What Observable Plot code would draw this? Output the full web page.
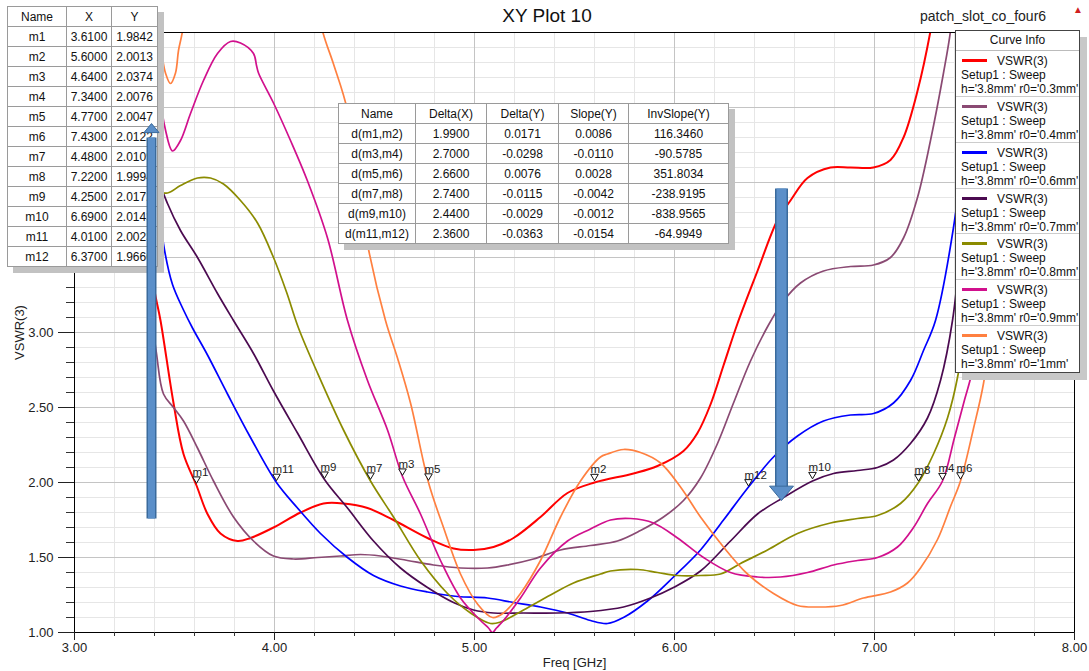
<!DOCTYPE html>
<html><head><meta charset="utf-8">
<script src="https://cdn.jsdelivr.net/npm/d3@7"></script>
<script src="https://cdn.jsdelivr.net/npm/@observablehq/plot@0.6"></script>
<style>
body{margin:0;background:#fff;font-family:Arial,"Liberation Sans",sans-serif;}
#wrap{position:relative;width:1089px;height:671px;overflow:hidden;background:#fff}
#wrap svg{position:absolute;left:0;top:0}
.title{position:absolute;left:0;width:1094px;top:4px;text-align:center;font-size:19px;color:#111;line-height:24px}
.design{position:absolute;left:920px;top:7px;font-size:14px;color:#222;line-height:18px}
.logo{position:absolute;left:1073px;top:4px;font-size:10px;color:#d02020}
table.tbl{position:absolute;border-collapse:collapse;table-layout:fixed;background:#fff;font-size:12px;color:#111;box-shadow:6px 6px 0 #c2c2c2;border:1px solid #333;z-index:3}
.tbl td{border:1px solid #9a9a9a;height:19px;padding:0;text-align:center;line-height:18px;white-space:nowrap;overflow:hidden}
#legend{position:absolute;left:955px;top:30px;width:125px;height:343px;box-sizing:border-box;border:1px solid #444;background:#fff;box-shadow:7px 7px 0 #c8c8c8;font-size:12px;color:#111;z-index:3}
.lgHead{height:20px;line-height:19px;text-align:center;border-bottom:1px solid #bbb;box-sizing:border-box}
.lgItem{position:relative;height:45.86px;box-sizing:border-box;border-bottom:1px solid #ccc}
.lgItem:last-child{border-bottom:none}
.lgLine{position:absolute;left:6px;top:8px;width:25px;height:3px}
.lgT1{position:absolute;left:41px;top:3px;line-height:14px}
.lgT2{position:absolute;left:5px;top:17px;line-height:14px;white-space:nowrap}
.lgT3{position:absolute;left:5px;top:31px;line-height:14px;white-space:nowrap}
</style>
</head>
<body>
<div id="wrap">
  <div id="plotLayer"></div>
  <div class="title">XY Plot 10</div>
  <div class="design">patch_slot_co_four6</div>
  <div class="logo">▲</div>
  <table class="tbl" id="markerTable" style="left:7px;top:6px;width:150px"></table>
  <table class="tbl" id="deltaTable" style="left:338px;top:103px;width:390px"></table>
  <div id="legend"></div>
  <div id="arrowLayer"></div>
</div>
<script>
// ---------- curve data: [Freq GHz, VSWR] ----------
const vswr03 = [[3.37,3.60],[3.40,3.28],[3.43,3.08],[3.495,2.53],[3.545,2.19],[3.61,1.98],[3.665,1.79],[3.73,1.66],[3.815,1.61],[3.88,1.63],[3.995,1.70],[4.13,1.80],[4.245,1.86],[4.345,1.86],[4.465,1.83],[4.595,1.75],[4.765,1.63],[4.895,1.56],[4.995,1.55],[5.095,1.57],[5.195,1.63],[5.33,1.77],[5.465,1.93],[5.60,2.00],[5.795,2.06],[5.915,2.11],[6.045,2.21],[6.115,2.33],[6.18,2.52],[6.245,2.78],[6.315,3.06],[6.415,3.41],[6.515,3.75],[6.58,3.88],[6.665,4.03],[6.78,4.10],[6.88,4.10],[6.995,4.10],[7.08,4.15],[7.145,4.30],[7.215,4.61],[7.28,5.01],[7.32,5.35]];
const vswr04 = [[3.365,3.50],[3.375,3.25],[3.41,2.86],[3.445,2.59],[3.495,2.50],[3.545,2.41],[3.615,2.23],[3.695,2.01],[3.795,1.77],[3.895,1.61],[3.995,1.51],[4.095,1.49],[4.215,1.50],[4.33,1.51],[4.43,1.52],[4.53,1.51],[4.665,1.48],[4.795,1.45],[4.93,1.43],[5.065,1.43],[5.165,1.45],[5.295,1.49],[5.43,1.55],[5.58,1.58],[5.715,1.61],[5.83,1.68],[5.945,1.77],[6.045,1.88],[6.13,2.03],[6.215,2.26],[6.295,2.53],[6.38,2.81],[6.47,3.05],[6.545,3.21],[6.63,3.33],[6.745,3.41],[6.88,3.44],[6.995,3.45],[7.08,3.50],[7.145,3.63],[7.215,3.90],[7.28,4.28],[7.345,4.73],[7.38,5.01],[7.40,5.30]];
const vswr06 = [[3.38,4.35],[3.42,3.86],[3.45,3.55],[3.49,3.32],[3.545,3.15],[3.59,3.03],[3.665,2.85],[3.765,2.59],[3.88,2.30],[4.01,2.00],[4.115,1.83],[4.23,1.66],[4.365,1.50],[4.495,1.38],[4.63,1.31],[4.765,1.27],[4.915,1.24],[5.065,1.23],[5.195,1.20],[5.33,1.17],[5.465,1.13],[5.58,1.08],[5.665,1.06],[5.745,1.10],[5.865,1.21],[5.995,1.37],[6.13,1.55],[6.245,1.75],[6.37,1.97],[6.495,2.17],[6.615,2.31],[6.745,2.41],[6.88,2.45],[6.995,2.46],[7.095,2.53],[7.18,2.68],[7.245,2.88],[7.305,3.08],[7.395,3.70],[7.45,4.30],[7.50,5.00],[7.53,5.40]];
const vswr07 = [[3.39,4.45],[3.415,4.15],[3.43,3.99],[3.465,3.86],[3.53,3.68],[3.615,3.50],[3.715,3.26],[3.795,3.08],[3.895,2.86],[3.995,2.61],[4.115,2.33],[4.25,2.02],[4.365,1.83],[4.495,1.61],[4.63,1.43],[4.765,1.30],[4.895,1.20],[4.995,1.15],[5.095,1.13],[5.245,1.13],[5.415,1.13],[5.58,1.14],[5.745,1.17],[5.88,1.23],[5.995,1.30],[6.13,1.41],[6.28,1.61],[6.415,1.79],[6.545,1.90],[6.69,2.01],[6.795,2.06],[6.915,2.08],[7.015,2.10],[7.095,2.15],[7.18,2.26],[7.265,2.43],[7.33,2.68],[7.39,3.08],[7.44,3.70],[7.50,4.50],[7.55,5.30]];
const vswr08 = [[3.38,4.02],[3.405,3.95],[3.465,3.93],[3.53,3.98],[3.615,4.03],[3.68,4.03],[3.745,3.99],[3.83,3.88],[3.915,3.73],[3.995,3.50],[4.06,3.27],[4.12,3.03],[4.215,2.73],[4.345,2.35],[4.48,2.01],[4.595,1.77],[4.73,1.48],[4.865,1.26],[4.98,1.13],[5.08,1.06],[5.13,1.07],[5.245,1.15],[5.38,1.25],[5.495,1.33],[5.63,1.39],[5.68,1.41],[5.815,1.42],[5.915,1.40],[6.015,1.38],[6.13,1.38],[6.23,1.39],[6.33,1.46],[6.465,1.55],[6.615,1.66],[6.78,1.73],[6.915,1.76],[7.015,1.78],[7.13,1.86],[7.22,2.00],[7.295,2.19],[7.365,2.43],[7.415,2.70],[7.47,3.20],[7.53,4.00],[7.58,4.80],[7.61,5.30]];
const vswr09 = [[3.39,5.60],[3.415,5.01],[3.43,4.57],[3.455,4.35],[3.49,4.21],[3.53,4.28],[3.58,4.46],[3.645,4.68],[3.715,4.86],[3.78,4.94],[3.83,4.93],[3.895,4.86],[3.91,4.78],[3.92,4.73],[3.995,4.53],[4.08,4.28],[4.165,4.01],[4.265,3.63],[4.365,3.08],[4.465,2.68],[4.565,2.35],[4.64,2.04],[4.73,1.79],[4.83,1.48],[4.93,1.23],[5.03,1.08],[5.07,1.03],[5.09,1.00],[5.11,1.03],[5.145,1.08],[5.23,1.23],[5.33,1.43],[5.465,1.61],[5.58,1.69],[5.68,1.75],[5.78,1.76],[5.895,1.73],[6.015,1.63],[6.145,1.50],[6.28,1.40],[6.415,1.37],[6.53,1.37],[6.665,1.40],[6.795,1.45],[6.915,1.48],[7.015,1.50],[7.115,1.57],[7.195,1.70],[7.265,1.86],[7.34,2.01],[7.40,2.30],[7.45,2.55],[7.49,2.75],[7.55,3.30],[7.62,4.20],[7.68,5.00],[7.70,5.30]];
const vswr10 = [[3.39,5.60],[3.42,5.01],[3.44,4.83],[3.455,4.73],[3.48,4.66],[3.505,4.73],[3.52,4.88],[3.54,5.01],[3.60,5.70],[3.90,6.20],[4.15,5.60],[4.24,5.01],[4.295,4.79],[4.365,4.48],[4.465,3.59],[4.555,3.08],[4.615,2.83],[4.68,2.53],[4.77,2.00],[4.845,1.70],[4.93,1.39],[5.015,1.19],[5.09,1.10],[5.145,1.13],[5.23,1.26],[5.33,1.48],[5.43,1.77],[5.53,2.01],[5.63,2.17],[5.665,2.19],[5.745,2.22],[5.83,2.20],[5.93,2.13],[6.03,1.97],[6.13,1.77],[6.245,1.57],[6.365,1.39],[6.495,1.26],[6.615,1.18],[6.715,1.17],[6.83,1.18],[6.945,1.23],[7.08,1.27],[7.165,1.33],[7.23,1.43],[7.315,1.62],[7.38,1.84],[7.43,2.01],[7.495,2.36],[7.545,2.66],[7.60,3.20],[7.68,4.10],[7.75,5.00],[7.78,5.30]];

const curveR0 = ["0.3mm","0.4mm","0.6mm","0.7mm","0.8mm","0.9mm","1mm"];
const curveData = [vswr03, vswr04, vswr06, vswr07, vswr08, vswr09, vswr10];
const curveColors = ["#ff0000","#8a4a73","#0000ff","#4b0a50","#8b8b00","#d1108d","#ff8040"];

// ---------- markers ----------
const markerNames = ["m1","m2","m3","m4","m5","m6","m7","m8","m9","m10","m11","m12"];
const markerX = [3.61,5.60,4.64,7.34,4.77,7.43,4.48,7.22,4.25,6.69,4.01,6.37];
const markerY = [1.9842,2.0013,2.0374,2.0076,2.0047,2.0122,2.0109,1.9994,2.0172,2.0143,2.0023,1.9660];

// ---------- delta table ----------
const deltaHead = ["Name","Delta(X)","Delta(Y)","Slope(Y)","InvSlope(Y)"];
const deltaNames = ["d(m1,m2)","d(m3,m4)","d(m5,m6)","d(m7,m8)","d(m9,m10)","d(m11,m12)"];
const deltaX = ["1.9900","2.7000","2.6600","2.7400","2.4400","2.3600"];
const deltaY = ["0.0171","-0.0298","0.0076","-0.0115","-0.0029","-0.0363"];
const slopeY = ["0.0086","-0.0110","0.0028","-0.0042","-0.0012","-0.0154"];
const invSlopeY = ["116.3460","-90.5785","351.8034","-238.9195","-838.9565","-64.9949"];

// ---------- annotation arrows (data coords) ----------
const arrows = [
  {f:3.385, tail:1.76, neck:4.30, tip:4.393, dir:"up"},
  {f:6.535, tail:3.96, neck:1.967, tip:1.88, dir:"down"}
];

// ---------- build ----------
const W = 1089, H = 671;
const margins = {marginLeft:74, marginRight:15, marginTop:32, marginBottom:39};
const majorX = d3.range(3, 8.001, 1);
const minorX = d3.range(3, 8.001, 0.2);
const majorY = d3.range(1, 5.001, 0.5);
const minorY = d3.range(1, 5.001, 0.1);
const font = "Arial, 'Liberation Sans', sans-serif";
// labels above 3.00 sit behind the marker table in the original, so they are left blank
const yLabelMax = 3.0;

const markers = markerNames.map((n,i)=>({name:n, x:markerX[i], y:markerY[i]}));

const markerSymbol = {draw(ctx, size){const w=Math.sqrt(size);const h=w*0.85;ctx.moveTo(0,0);ctx.lineTo(-w/2,-h);ctx.lineTo(w/2,-h);ctx.closePath();}};
const headSymbol = {draw(ctx, size){const w=Math.sqrt(size);const h=w*0.6;ctx.moveTo(0,0);ctx.lineTo(w/2,h);ctx.lineTo(-w/2,h);ctx.closePath();}};

const lineMarks = curveData.map((pts,i)=>Plot.line(pts, {x:d=>d[0], y:d=>d[1], stroke:curveColors[i], strokeWidth: i===0 ? 2 : 1.7, curve:"catmull-rom", clip:true}));

const plot = Plot.plot({
  width:W, height:H, ...margins,
  x:{domain:[3,8]}, y:{domain:[1,5]},
  style:{fontFamily:font, fontSize:"13px", color:"#222", background:"transparent", overflow:"visible"},
  marks:[
    Plot.gridX({ticks:minorX, stroke:"#e6e6e6", strokeOpacity:1}),
    Plot.gridY({ticks:minorY, stroke:"#e6e6e6", strokeOpacity:1}),
    Plot.gridX({ticks:majorX, stroke:"#c4c4c4", strokeOpacity:1}),
    Plot.gridY({ticks:majorY, stroke:"#c4c4c4", strokeOpacity:1}),
    ...lineMarks,
    Plot.frame({stroke:"#000"}),
    Plot.axisX({ticks:minorX, tickSize:4, tickFormat:()=>"", label:null, stroke:"#333"}),
    Plot.axisX({ticks:majorX, tickSize:8, tickPadding:2, tickFormat:d=>d.toFixed(2), label:"Freq [GHz]", labelAnchor:"center", labelOffset:34, labelArrow:"none", fontSize:13}),
    Plot.axisY({ticks:minorY, tickSize:8, tickFormat:()=>"", label:null, stroke:"#333"}),
    Plot.axisY({ticks:majorY, tickSize:16, tickPadding:5, tickFormat:d=>d <= yLabelMax + 1e-9 ? d.toFixed(2) : "", label:"VSWR(3)", labelAnchor:"center", labelOffset:60, labelArrow:"none", fontSize:13}),
    Plot.dot(markers, {x:"x", y:"y", symbol:markerSymbol, r:4.3, dy:-1.5, fill:"white", stroke:"#111", strokeWidth:1}),
    Plot.text(markers, {x:"x", y:"y", text:"name", textAnchor:"start", lineAnchor:"bottom", dx:-4, dy:-9, fontSize:11.5, fill:"#222"})
  ]
});
document.getElementById("plotLayer").appendChild(plot);

const arrowPlot = Plot.plot({
  width:W, height:H, ...margins,
  x:{domain:[3,8], axis:null}, y:{domain:[1,5], axis:null},
  style:{background:"transparent", overflow:"visible"},
  marks:[
    Plot.link(arrows.filter(a=>a.dir==="up"), {x1:"f", x2:"f", y1:"tail", y2:"neck", stroke:"#3a6a9c", strokeWidth:10}),
    Plot.link(arrows.filter(a=>a.dir==="up"), {x1:"f", x2:"f", y1:"tail", y2:"neck", stroke:"#5b8fc9", strokeWidth:7}),
    Plot.dot(arrows.filter(a=>a.dir==="up"), {x:"f", y:"tip", symbol:headSymbol, r:8.5, fill:"#5b8fc9", stroke:"#3a6a9c", strokeWidth:1}),
    Plot.link(arrows.filter(a=>a.dir==="down"), {x1:"f", x2:"f", y1:"tail", y2:"neck", stroke:"#3a6a9c", strokeWidth:13}),
    Plot.link(arrows.filter(a=>a.dir==="down"), {x1:"f", x2:"f", y1:"tail", y2:"neck", stroke:"#5b8fc9", strokeWidth:10}),
    Plot.dot(arrows.filter(a=>a.dir==="down"), {x:"f", y:"tip", symbol:headSymbol, rotate:180, r:13.5, fill:"#5b8fc9", stroke:"#3a6a9c", strokeWidth:1})
  ]
});
arrowPlot.style.zIndex = 5;
document.getElementById("arrowLayer").appendChild(arrowPlot);

// marker table
const mt = document.getElementById("markerTable");
mt.innerHTML = `<colgroup><col style="width:59px"><col style="width:45px"><col style="width:46px"></colgroup>` +
  `<tr><td>Name</td><td>X</td><td>Y</td></tr>` +
  markers.map(m=>`<tr><td>${m.name}</td><td>${m.x.toFixed(4)}</td><td>${m.y.toFixed(4)}</td></tr>`).join("");

// delta table
const dt = document.getElementById("deltaTable");
dt.innerHTML = `<colgroup><col style="width:77px"><col style="width:71px"><col style="width:72px"><col style="width:70px"><col style="width:100px"></colgroup>` +
  `<tr>${deltaHead.map(h=>`<td>${h}</td>`).join("")}</tr>` +
  deltaNames.map((n,i)=>`<tr><td>${n}</td><td>${deltaX[i]}</td><td>${deltaY[i]}</td><td>${slopeY[i]}</td><td>${invSlopeY[i]}</td></tr>`).join("");

// legend
document.getElementById("legend").innerHTML = `<div class="lgHead">Curve Info</div>` +
  curveR0.map((r,i)=>`<div class="lgItem"><span class="lgLine" style="background:${curveColors[i]}"></span><span class="lgT1">VSWR(3)</span><div class="lgT2">Setup1 : Sweep</div><div class="lgT3">h='3.8mm' r0='${r}'</div></div>`).join("");
</script>
</body></html>
